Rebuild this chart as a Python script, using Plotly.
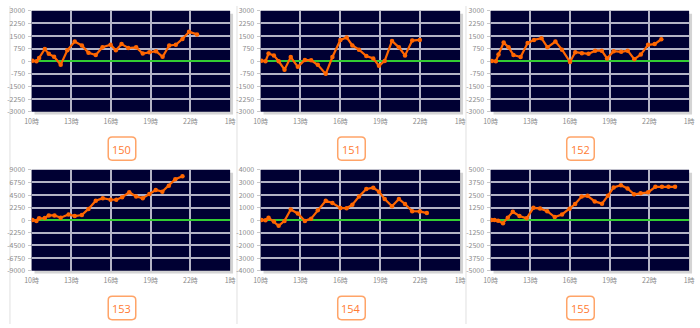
import plotly.graph_objects as go

W, H = 700, 328

# ---------------- data ----------------
machine_ids = ["150", "151", "152", "153", "154", "155"]
y_limits = [3000, 3000, 3000, 9000, 4000, 5000]

x_tick_vals = [10, 13, 16, 19, 22, 25]
x_tick_text = ["10時", "13時", "16時", "19時", "22時", "1時"]

times_150 = [10.07, 10.37, 10.57, 11.0, 11.3, 11.7, 12.2, 12.7, 13.26, 13.8, 14.3, 14.85, 15.36, 15.97,
             16.37, 16.8, 17.3, 17.9, 18.4, 18.9, 19.4, 19.9, 20.4, 20.9, 21.4, 21.9, 22.5]
diff_150 = [30, 0, 200, 730, 440, 270, -200, 650, 1170, 940, 500, 370, 830, 980,
            650, 1020, 790, 830, 460, 540, 600, 270, 940, 980, 1330, 1750, 1600]

times_151 = [10.07, 10.37, 10.6, 11.0, 11.36, 11.8, 12.27, 12.8, 13.33, 13.8, 14.3, 14.9, 15.4, 16.0,
             16.47, 16.9, 17.4, 17.95, 18.47, 18.9, 19.33, 19.88, 20.4, 20.86, 21.4, 21.97]
diff_151 = [30, 0, 460, 350, 0, -500, 250, -330, 80, 60, -210, -750, 250, 1270,
            1420, 940, 690, 310, 170, -270, 20, 1210, 830, 350, 1230, 1270]

times_152 = [10.1, 10.4, 10.6, 10.99, 11.36, 11.73, 12.27, 12.8, 13.28, 13.85, 14.3, 14.9, 15.4, 16.0,
             16.4, 16.9, 17.4, 17.9, 18.4, 18.8, 19.3, 19.87, 20.36, 20.86, 21.35, 21.9, 22.4, 22.9]
diff_152 = [20, 0, 400, 1110, 830, 370, 250, 1080, 1270, 1370, 830, 1170, 690, -40,
            540, 480, 440, 630, 630, 170, 600, 560, 630, 120, 400, 980, 1020, 1310]

times_153 = [10.07, 10.37, 10.57, 11.0, 11.3, 11.73, 12.2, 12.8, 13.26, 13.8, 14.3, 14.85, 15.38,
             15.97, 16.4, 16.84, 17.38, 17.9, 18.4, 18.9, 19.38, 19.88, 20.37, 20.86, 21.4]
diff_153 = [60, -120, 350, 400, 870, 870, 460, 1050, 750, 930, 2030, 3480, 3950,
            3660, 3660, 4120, 4990, 4240, 3950, 4700, 5400, 5110, 6150, 7320, 7840]

times_154 = [10.07, 10.37, 10.6, 11.0, 11.36, 11.8, 12.27, 12.8, 13.33, 13.8, 14.3, 14.9, 15.4, 16.0,
             16.47, 16.9, 17.4, 17.95, 18.47, 18.9, 19.33, 19.88, 20.4, 20.86, 21.4, 21.97, 22.5]
diff_154 = [25, 0, 200, -100, -440, -50, 850, 540, -50, 130, 800, 1550, 1370, 980,
            950, 1240, 1880, 2480, 2580, 2270, 1680, 1110, 1680, 1290, 720, 700, 570]

times_155 = [10.07, 10.3, 10.57, 10.94, 11.3, 11.68, 12.18, 12.72, 13.24, 13.74, 14.28, 14.85, 15.4,
             15.97, 16.39, 16.88, 17.33, 17.87, 18.42, 18.86, 19.3, 19.85, 20.35, 20.84, 21.34,
             21.9, 22.45, 22.95, 23.44, 23.94]
diff_155 = [30, 30, -60, -290, 260, 840, 420, 190, 1230, 1160, 900, 320, 580,
            1130, 1610, 2350, 2420, 1870, 1650, 2420, 3260, 3480, 3160, 2580, 2680,
            2770, 3320, 3320, 3320, 3320]

all_times = [times_150, times_151, times_152, times_153, times_154, times_155]
all_diffs = [diff_150, diff_151, diff_152, diff_153, diff_154, diff_155]

# ---------------- layout geometry (pixels) ----------------
col_px = [(25, 227), (258, 461), (492, 694)]
row_px = [(5, 109), (169, 273)]
cell_centers = [117, 350.5, 583.5]
box_centers_y = [147, 311.5]
box_w, box_h = 28, 24

NAVY = "#000033"
ORANGE = "#ff6600"
GRID = "#b4b4c6"
GREEN = "#33cc33"
TICKGRAY = "#8a8a8a"
FONT = "Noto Sans CJK JP"


def px2x(p):
    return p / W


def px2y(p):
    return 1 - p / H


fig = go.Figure()
shapes = []
annotations = []

for i, mid in enumerate(machine_ids):
    r, c = divmod(i, 3)
    n = i + 1
    xa = "xaxis" if n == 1 else f"xaxis{n}"
    ya = "yaxis" if n == 1 else f"yaxis{n}"
    xr = "x" if n == 1 else f"x{n}"
    yr = "y" if n == 1 else f"y{n}"

    x0p, x1p = col_px[c]
    y0p, y1p = row_px[r]

    lim = y_limits[i]
    step = lim / 4
    yvals = [-lim + k * step for k in range(9)]
    ytext = [str(int(v)) if v == int(v) else str(v) for v in yvals]

    fig.add_trace(go.Scatter(
        x=all_times[i], y=all_diffs[i], xaxis=xr, yaxis=yr,
        mode="lines+markers",
        line=dict(color=ORANGE, width=2.2),
        marker=dict(color=ORANGE, size=4.5),
        showlegend=False, hoverinfo="skip",
    ))

    fig.layout[xa] = dict(
        domain=[px2x(x0p), px2x(x1p)], anchor=yr,
        range=[10, 25], tickmode="array", tickvals=x_tick_vals, ticktext=x_tick_text,
        showgrid=True, gridcolor=GRID, gridwidth=1.5,
        zeroline=False, showline=False, ticks="",
        ticklabelstandoff=4,
        tickfont=dict(family=FONT, size=7, color=TICKGRAY),
        fixedrange=True,
    )
    fig.layout[ya] = dict(
        domain=[px2y(y1p), px2y(y0p)], anchor=xr,
        range=[-lim, lim], tickmode="array", tickvals=yvals, ticktext=ytext,
        showgrid=True, gridcolor=GRID, gridwidth=1.5,
        zeroline=True, zerolinecolor=GREEN, zerolinewidth=2,
        showline=False, ticks="outside", ticklen=3, tickcolor="#c8c8c8", tickwidth=1,
        ticklabelstandoff=1,
        tickfont=dict(family=FONT, size=7, color=TICKGRAY),
        fixedrange=True,
    )

    # drop shadow + navy plot background
    shapes.append(dict(type="rect", xref="paper", yref="paper", layer="below",
                       x0=px2x(x0p + 3), x1=px2x(x1p + 3), y0=px2y(y1p + 3), y1=px2y(y0p + 3),
                       fillcolor="#d4d4d4", line=dict(width=0)))
    shapes.append(dict(type="rect", xref="paper", yref="paper", layer="below",
                       x0=px2x(x0p), x1=px2x(x1p), y0=px2y(y1p), y1=px2y(y0p),
                       fillcolor=NAVY, line=dict(width=0)))

    # rounded label box
    cx, cy = cell_centers[c], box_centers_y[r]
    L, R = cx - box_w / 2, cx + box_w / 2
    T, B = cy - box_h / 2, cy + box_h / 2
    rad = 4
    path = (
        f"M {px2x(L + rad)} {px2y(T)} "
        f"L {px2x(R - rad)} {px2y(T)} Q {px2x(R)} {px2y(T)} {px2x(R)} {px2y(T + rad)} "
        f"L {px2x(R)} {px2y(B - rad)} Q {px2x(R)} {px2y(B)} {px2x(R - rad)} {px2y(B)} "
        f"L {px2x(L + rad)} {px2y(B)} Q {px2x(L)} {px2y(B)} {px2x(L)} {px2y(B - rad)} "
        f"L {px2x(L)} {px2y(T + rad)} Q {px2x(L)} {px2y(T)} {px2x(L + rad)} {px2y(T)} Z"
    )
    shapes.append(dict(type="path", xref="paper", yref="paper", path=path,
                       fillcolor="white", line=dict(color="#ffa468", width=1.5)))
    annotations.append(dict(xref="paper", yref="paper", x=px2x(cx), y=px2y(cy + 0.5),
                            text=mid, showarrow=False, xanchor="center", yanchor="middle",
                            font=dict(family="Open Sans", size=11, color="#ff7b33")))

# panel separators
for sx in [3, 234, 467]:
    shapes.append(dict(type="line", xref="paper", yref="paper", layer="below",
                       x0=px2x(sx), x1=px2x(sx), y0=0, y1=1,
                       line=dict(color="#e0e0e0", width=1)))

fig.update_layout(
    width=W, height=H,
    margin=dict(l=0, r=0, t=0, b=0),
    paper_bgcolor="white",
    plot_bgcolor="rgba(0,0,0,0)",
    shapes=shapes,
    annotations=annotations,
    showlegend=False,
)

fig.write_html("out.html", config={"displayModeBar": False})
